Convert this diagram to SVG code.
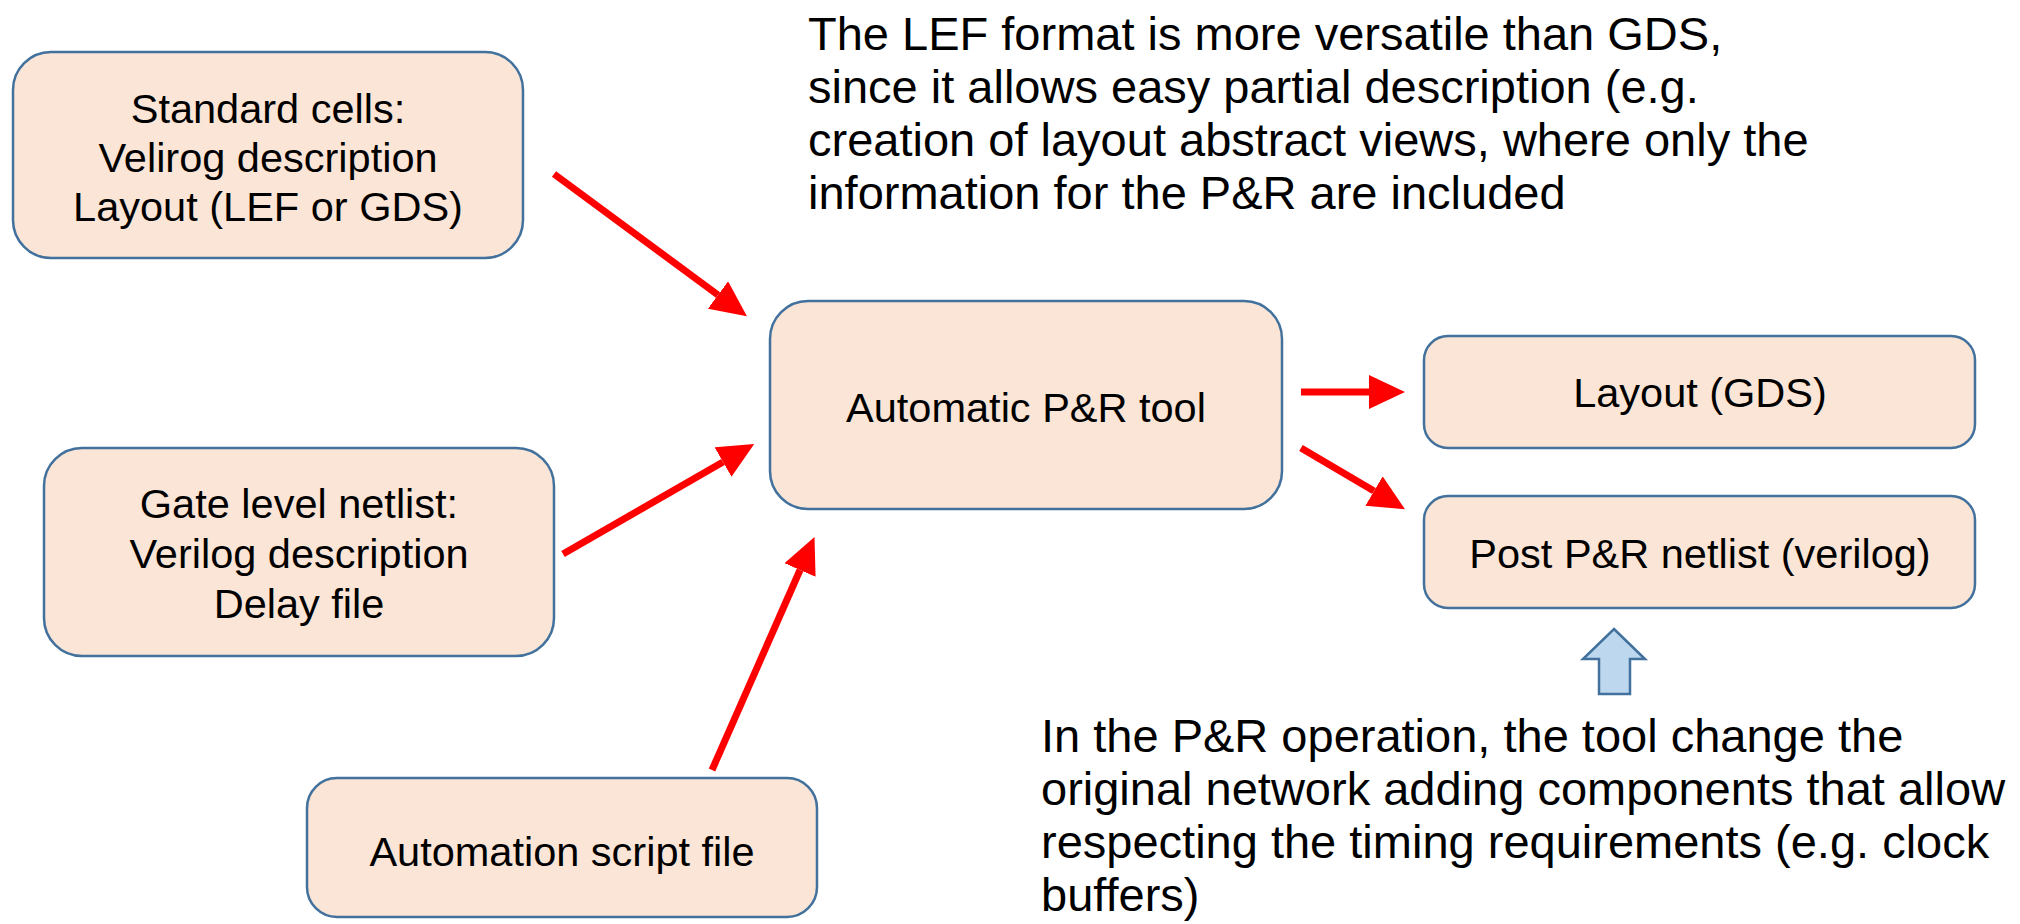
<svg xmlns="http://www.w3.org/2000/svg" width="2020" height="924" viewBox="0 0 2020 924">
<defs>
<style>
.box{fill:#fbe5d6;stroke:#41719c;stroke-width:2.5}
.t{font-family:"Liberation Sans",Arial,sans-serif;font-size:41.5px;fill:#000;text-anchor:middle}
.note{font-family:"Liberation Sans",Arial,sans-serif;font-size:47px;fill:#000}
.arr{stroke:#ff0000;stroke-width:7;fill:none;marker-end:url(#head)}
</style>
<marker id="head" viewBox="0 0 36 34" refX="0" refY="17" markerWidth="36" markerHeight="34" markerUnits="userSpaceOnUse" orient="auto">
<path d="M0,0 L36,17 L0,34 z" fill="#ff0000"/>
</marker>
</defs>
<rect width="2020" height="924" fill="#ffffff"/>

<g id="standard-cells">
<rect class="box" x="13" y="52" width="510" height="206" rx="38"/>
<text class="t" x="268" y="123">Standard cells:</text>
<text class="t" x="268" y="172">Velirog description</text>
<text class="t" x="268" y="221">Layout (LEF or GDS)</text>
</g>

<g id="gate-netlist">
<rect class="box" x="44" y="448" width="510" height="208" rx="38"/>
<text class="t" x="299" y="518">Gate level netlist:</text>
<text class="t" x="299" y="568">Verilog description</text>
<text class="t" x="299" y="618">Delay file</text>
</g>

<g id="automation-script">
<rect class="box" x="307" y="778" width="510" height="139" rx="30"/>
<text class="t" x="562" y="866">Automation script file</text>
</g>

<g id="pr-tool">
<rect class="box" x="770" y="301" width="512" height="208" rx="38"/>
<text class="t" x="1026" y="422">Automatic P&amp;R tool</text>
</g>

<g id="layout-gds">
<rect class="box" x="1424" y="336" width="551" height="112" rx="24"/>
<text class="t" x="1700" y="407">Layout (GDS)</text>
</g>

<g id="post-netlist">
<rect class="box" x="1424" y="496" width="551" height="112" rx="24"/>
<text class="t" x="1700" y="568">Post P&amp;R netlist (verilog)</text>
</g>

<g id="connectors">
<line class="arr" x1="554" y1="174" x2="718" y2="295"/>
<line class="arr" x1="563" y1="554" x2="723" y2="462"/>
<line class="arr" x1="712" y1="770" x2="800" y2="570"/>
<line class="arr" x1="1301" y1="392" x2="1369" y2="392"/>
<line class="arr" x1="1301" y1="448" x2="1374" y2="491"/>
</g>

<g id="up-arrow">
<path d="M1614,629 L1645,659 L1630,659 L1630,694 L1599,694 L1599,659 L1583,659 Z" fill="#bdd7ee" stroke="#41719c" stroke-width="2.5" stroke-linejoin="miter"/>
</g>

<g id="note-lef">
<text class="note" x="808" y="50">The LEF format is more versatile than GDS,</text>
<text class="note" x="808" y="103">since it allows easy partial description (e.g.</text>
<text class="note" x="808" y="156">creation of layout abstract views, where only the</text>
<text class="note" x="808" y="209">information for the P&amp;R are included</text>
</g>

<g id="note-pr">
<text class="note" x="1041" y="752">In the P&amp;R operation, the tool change the</text>
<text class="note" x="1041" y="805">original network adding components that allow</text>
<text class="note" x="1041" y="858">respecting the timing requirements (e.g. clock</text>
<text class="note" x="1041" y="911">buffers)</text>
</g>
</svg>
